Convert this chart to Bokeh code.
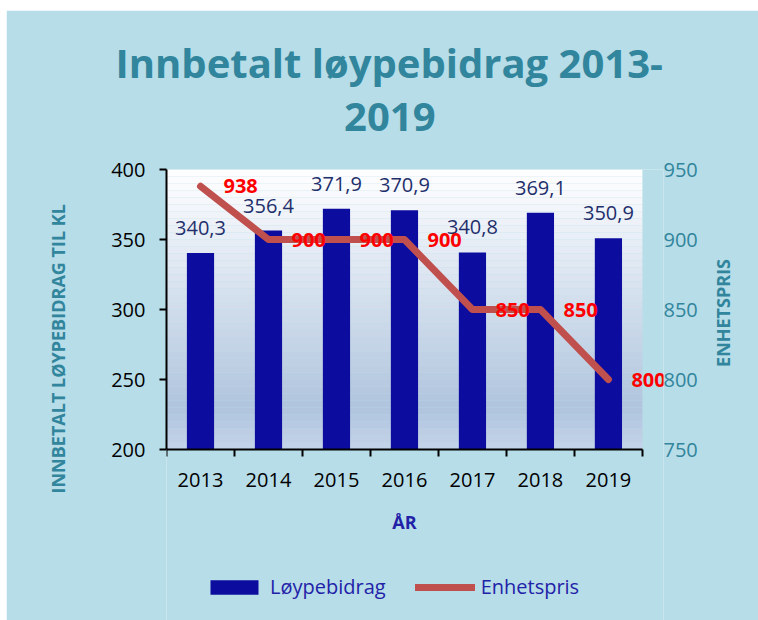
import math
from bokeh.plotting import figure
from bokeh.models import (ColumnDataSource, Range1d, LinearAxis, FixedTicker,
                          Legend, LegendItem, BoxAnnotation, Title)
from bokeh.embed import file_html
from bokeh.resources import INLINE

# ---- data ----
years = [2013, 2014, 2015, 2016, 2017, 2018, 2019]
loypebidrag = [340.3, 356.4, 371.9, 370.9, 340.8, 369.1, 350.9]
enhetspris = [938, 900, 900, 900, 850, 850, 800]
left_ticks = [200, 250, 300, 350, 400]
right_ticks = [750, 800, 850, 900, 950]

title_line1 = "Innbetalt løypebidrag 2013-"
title_line2 = "2019"
left_label = "INNBETALT LØYPEBIDRAG TIL KL"
right_label = "ENHETSPRIS"
x_label = "ÅR"
series_names = ["Løypebidrag", "Enhetspris"]

# ---- styles ----
BG = "#B7DDE8"
TEAL = "#31859C"
BAR = "#0C0C9E"
LINE = "#C0504D"
NAVY_TXT = "#1F2F6B"
LEG_TXT = "#2222A8"
FONT = "Open Sans"
NB = "\u00a0"

src = ColumnDataSource(dict(
    year=years,
    val=loypebidrag,
    pris=enhetspris,
    vlab=[f"{v:.1f}".replace(".", ",") for v in loypebidrag],
    plab=[str(v) for v in enhetspris],
))

# layout: the frame runs down to the bottom edge so the legend can sit in it;
# the value axes only cover their own spans (bounds)
PLOT_H = 280      # px height of the value area
BELOW = 171       # px below the value area (x labels + legend)
x_lo = years[0] - 0.5
x_hi = years[-1] + 0.5
y0, y1 = left_ticks[0], left_ticks[-1]
r0, r1 = right_ticks[0], right_ticks[-1]
y_ext = BELOW * (y1 - y0) / PLOT_H
r_ext = BELOW * (r1 - r0) / PLOT_H

p = figure(frame_width=497, frame_height=PLOT_H + BELOW, output_backend="svg",
           toolbar_location=None,
           x_range=Range1d(x_lo, x_hi + 0.31),
           y_range=Range1d(y0 - y_ext, y1),
           min_border_left=160, min_border_right=95,
           min_border_top=159, min_border_bottom=0,
           margin=(10, 0, 0, 6))
p.extra_y_ranges = {"pris": Range1d(r0 - r_ext, r1)}

p.background_fill_color = BG
p.border_fill_color = BG
p.outline_line_color = None
p.xgrid.visible = False
p.ygrid.visible = False

# title (two lines, second line centred under the first)
p.title.text = title_line1 + "\n" + NB * 22 + title_line2
p.title.align = "left"
p.title.offset = -51
p.title.vertical_align = "top"
p.title.text_font = FONT
p.title.text_font_style = "bold"
p.title.text_font_size = "40px"
p.title.text_color = TEAL
p.title.text_line_height = 0.98
p.title.standoff = 48

# left axis title
p.add_layout(Title(text=left_label, align="left", offset=127, vertical_align="middle",
                   standoff=75, text_font=FONT, text_font_style="bold",
                   text_font_size="18px", text_color=TEAL), "left")

# gradient plot-area background
N = 40
def mix(c1, c2, t):
    return "#%02x%02x%02x" % tuple(int(round(a + (b - a) * t)) for a, b in zip(c1, c2))
top_c = (255, 255, 255)
mid_c = (176, 196, 222)
bot_c = (196, 211, 233)
for i in range(N):
    t = (i + 0.5) / N  # 0 bottom -> 1 top
    if t < 0.15:
        c = mix(bot_c, mid_c, t / 0.15)
    else:
        c = mix(mid_c, top_c, (t - 0.15) / 0.85)
    p.add_layout(BoxAnnotation(bottom=y0 + (y1 - y0) * i / N, top=y0 + (y1 - y0) * (i + 1) / N,
                               left=x_lo, right=x_hi,
                               fill_color=c, fill_alpha=1, line_color=None, level="underlay"))

# bars
bars = p.vbar(x="year", top="val", bottom=y0, width=0.4, source=src,
              fill_color=BAR, line_color=None)
p.text(x="year", y="val", text="vlab", source=src, text_align="center",
       text_baseline="middle", y_offset=-25, text_color=NAVY_TXT,
       text_font={"value": FONT}, text_font_size="20px")

# line
ln = p.line(x="year", y="pris", source=src, y_range_name="pris",
            line_color=LINE, line_width=7, line_join="round", line_cap="round")
p.text(x="year", y="pris", text="plab", source=src, y_range_name="pris",
       text_align="left", text_baseline="middle", x_offset=23,
       text_color="#FF0000", text_font={"value": FONT}, text_font_style="bold",
       text_font_size="20px")

# x axis (pinned at the bottom of the value area)
xa = p.xaxis[0]
xa.fixed_location = y0
xa.bounds = (x_lo, x_hi)
xa.ticker = FixedTicker(ticks=years, minor_ticks=[y - 0.5 for y in years] + [x_hi])
xa.major_label_overrides = {y: str(y) for y in years}
xa.major_tick_line_color = None
xa.major_tick_out = 7
xa.major_tick_in = 0
xa.minor_tick_line_color = "black"
xa.minor_tick_line_width = 2
xa.minor_tick_out = 7
xa.minor_tick_in = 0
xa.axis_line_color = "black"
xa.axis_line_width = 2
xa.major_label_text_font = FONT
xa.major_label_text_font_size = "20px"
xa.major_label_text_color = "black"
xa.major_label_standoff = 16
xa.axis_label = x_label
xa.axis_label_text_font = FONT
xa.axis_label_text_font_style = "bold"
xa.axis_label_text_font_size = "18px"
xa.axis_label_text_color = LEG_TXT
xa.axis_label_standoff = 20

# left axis
ya = p.yaxis[0]
ya.bounds = (y0, y1)
ya.ticker = FixedTicker(ticks=left_ticks)
ya.axis_line_color = "black"
ya.axis_line_width = 2
ya.major_tick_line_color = "black"
ya.major_tick_line_width = 2
ya.major_tick_out = 7
ya.major_tick_in = 0
ya.minor_tick_line_color = None
ya.major_label_text_font = FONT
ya.major_label_text_font_size = "20px"
ya.major_label_text_color = "black"
ya.major_label_standoff = 14

# right axis
ra = LinearAxis(y_range_name="pris", ticker=FixedTicker(ticks=right_ticks), bounds=(r0, r1))
ra.axis_line_color = None
ra.major_tick_line_color = None
ra.minor_tick_line_color = None
ra.major_tick_out = 0
ra.major_tick_in = 0
ra.major_label_text_font = FONT
ra.major_label_text_font_size = "20px"
ra.major_label_text_color = TEAL
ra.major_label_standoff = 0
bottom_to_top = False
if "axis_label_orientation" in ra.properties():
    try:
        ra.axis_label_orientation = math.pi / 2
        bottom_to_top = True
    except Exception:
        bottom_to_top = False
if bottom_to_top:
    ra.axis_label = NB * 6 + right_label
    ra.axis_label_standoff = 22
else:
    ra.axis_label = right_label + NB * 37
    ra.axis_label_standoff = 14
ra.axis_label_text_font = FONT
ra.axis_label_text_font_style = "bold"
ra.axis_label_text_font_size = "18px"
ra.axis_label_text_color = TEAL
p.add_layout(ra, "right")

# legend (inside the extended frame, below the x axis)
leg = Legend(items=[LegendItem(label=series_names[0], renderers=[bars]),
                    LegendItem(label=series_names[1], renderers=[ln])],
             location=(38, 20), orientation="horizontal",
             background_fill_alpha=0, border_line_color=None,
             padding=0, margin=0, spacing=29, label_standoff=6,
             glyph_width=60, glyph_height=18,
             label_text_font=FONT, label_text_font_size="20px",
             label_text_color=LEG_TXT)
p.add_layout(leg)

open("out.html", "w").write(file_html(p, INLINE))
